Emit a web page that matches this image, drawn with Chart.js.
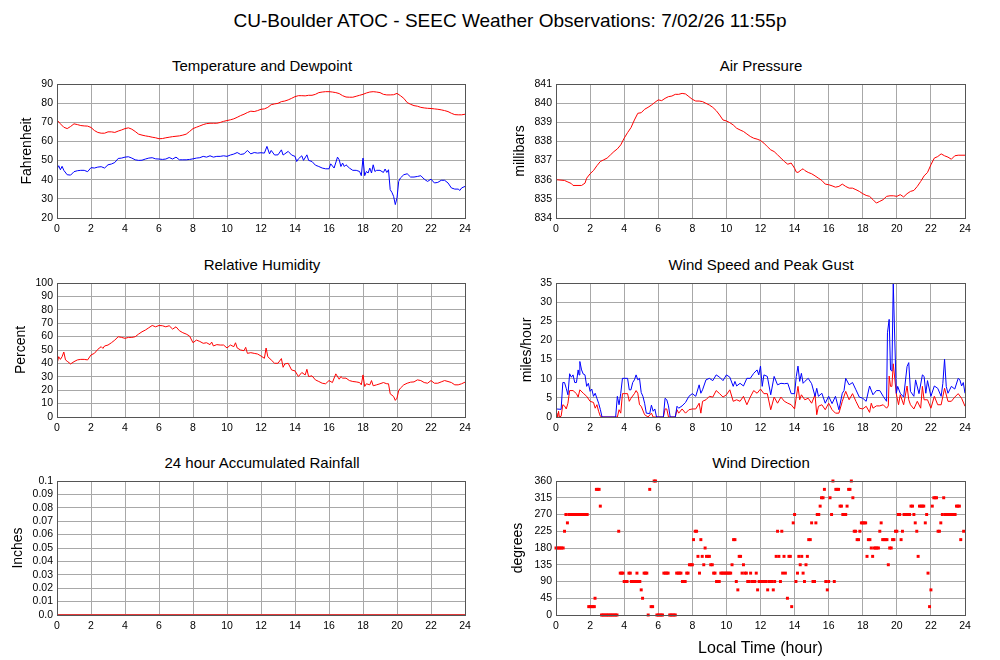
<!DOCTYPE html>
<html><head><meta charset="utf-8">
<script src="https://cdn.jsdelivr.net/npm/chart.js@4"></script>
<style>
html,body{margin:0;padding:0;background:#fff;}
body{width:1000px;height:660px;position:relative;overflow:hidden;font-family:"Liberation Sans",Arial,Helvetica,sans-serif;color:#000;}
.t{position:absolute;transform:translate(-50%,-50%);white-space:nowrap;line-height:1;}
canvas{position:absolute;}
</style></head><body>
<div class="t" style="left:510px;top:20px;font-size:19px">CU-Boulder ATOC - SEEC Weather Observations: 7/02/26 11:55p</div>
<div class="t" style="left:262px;top:65px;font-size:15px">Temperature and Dewpoint</div>
<div class="t" style="left:761px;top:65px;font-size:15px">Air Pressure</div>
<div class="t" style="left:262px;top:264px;font-size:15px">Relative Humidity</div>
<div class="t" style="left:761px;top:264px;font-size:15px">Wind Speed and Peak Gust</div>
<div class="t" style="left:262px;top:462px;font-size:15px">24 hour Accumulated Rainfall</div>
<div class="t" style="left:761px;top:462px;font-size:15px">Wind Direction</div>
<canvas id="cTemp"></canvas><canvas id="cPres"></canvas>
<canvas id="cRH"></canvas><canvas id="cWind"></canvas>
<canvas id="cRain"></canvas><canvas id="cDir"></canvas>
<script>
// ---------- data ----------
const hourTicks = [0,2,4,6,8,10,12,14,16,18,20,22,24];
const hourTickLabels = ['0','2','4','6','8','10','12','14','16','18','20','22','24'];

const tempTicks = [20,30,40,50,60,70,80,90];
const tempTickLabels = ['20','30','40','50','60','70','80','90'];
const presTicks = [834,835,836,837,838,839,840,841];
const presTickLabels = ['834','835','836','837','838','839','840','841'];
const rhTicks = [0,10,20,30,40,50,60,70,80,90,100];
const rhTickLabels = ['0','10','20','30','40','50','60','70','80','90','100'];
const windTicks = [0,5,10,15,20,25,30,35];
const windTickLabels = ['0','5','10','15','20','25','30','35'];
const rainTicks = [0,0.01,0.02,0.03,0.04,0.05,0.06,0.07,0.08,0.09,0.1];
const rainTickLabels = ['0.0','0.01','0.02','0.03','0.04','0.05','0.06','0.07','0.08','0.09','0.1'];
const dirTicks = [0,45,90,135,180,225,270,315,360];
const dirTickLabels = ['0','45','90','135','180','225','270','315','360'];

const tempHours = [0,0.2,0.4,0.6,0.8,1.0,1.2,1.4,1.6,1.8,2.0,2.2,2.4,2.6,2.8,3.0,3.2,3.4,3.6,3.8,4.0,4.2,4.4,4.6,4.8,5.0,5.2,5.4,5.6,5.8,6.0,6.2,6.4,6.6,6.8,7.0,7.2,7.4,7.6,7.8,8.0,8.2,8.4,8.6,8.8,9.0,9.2,9.4,9.6,9.8,10.0,10.2,10.4,10.6,10.8,11.0,11.2,11.4,11.6,11.8,12.0,12.2,12.4,12.6,12.8,13.0,13.2,13.4,13.6,13.8,14.0,14.2,14.4,14.6,14.8,15.0,15.2,15.4,15.6,15.8,16.0,16.2,16.4,16.6,16.8,17.0,17.2,17.4,17.6,17.8,18.0,18.2,18.4,18.6,18.8,19.0,19.2,19.4,19.6,19.8,20.0,20.2,20.4,20.6,20.8,21.0,21.2,21.4,21.6,21.8,22.0,22.2,22.4,22.6,22.8,23.0,23.2,23.4,23.6,23.8,24.0];
const tempValues = [71.2,69.2,67.4,66.7,67.8,69.2,68.8,68.3,68.1,68.0,67.3,65.7,64.7,64.3,64.3,65.0,65.0,64.7,65.4,66.0,66.7,67.1,66.4,65.2,63.8,63.3,62.9,62.6,62.2,61.9,61.4,61.5,61.9,62.2,62.5,62.7,62.9,63.3,63.8,65.2,66.7,67.4,68.1,68.8,69.3,69.5,69.5,69.5,69.9,70.5,70.9,71.3,71.8,72.6,73.5,74.2,75.1,75.8,75.6,76.1,76.8,77.0,77.8,79.2,79.6,79.9,80.8,81.1,81.7,82.5,83.4,83.9,83.9,83.8,84.1,84.1,84.6,85.5,85.8,86.0,86.0,85.8,85.5,85.0,83.9,83.2,83.1,83.1,83.6,84.1,84.6,85.3,85.8,86.0,85.8,85.5,84.6,84.3,84.3,84.4,85.1,83.9,82.5,80.3,79.4,78.7,78.4,77.8,77.5,77.3,77.2,77.0,76.8,76.5,76.1,75.6,74.7,74.0,73.9,73.9,74.2];

const dewHours = [
  0,0.1,0.2,0.3,0.4,0.6,0.8,
  1.0,1.2,1.4,1.6,1.8,
  2.0,2.2,2.4,2.6,2.8,
  3.0,3.2,3.4,3.6,3.8,
  4.0,4.2,4.4,4.6,4.8,
  5.0,5.2,5.4,5.6,5.8,
  6.0,6.2,6.4,6.6,6.8,
  7.0,7.2,7.4,7.6,7.8,
  8.0,8.2,8.4,8.6,8.8,
  9.0,9.2,9.4,9.6,9.8,
  10.0,10.2,10.4,10.6,10.8,
  11.0,11.2,11.4,11.6,11.8,
  12.0,12.2,12.35,12.5,12.6,12.8,
  13.0,13.2,13.3,13.4,13.6,13.8,
  14.0,14.1,14.2,14.4,14.5,14.7,14.8,
  15.0,15.2,15.4,15.6,15.8,
  16.0,16.1,16.3,16.5,16.6,16.7,16.8,16.9,
  17.0,17.2,17.4,17.6,17.8,17.9,
  18.0,18.1,18.2,18.3,18.4,18.5,18.6,18.7,18.8,
  19.0,19.2,19.3,19.4,19.5,19.6,19.7,19.8,19.9,
  20.0,20.1,20.2,20.4,20.6,20.8,
  21.0,21.2,21.4,21.6,21.8,
  22.0,22.2,22.4,22.6,22.8,
  23.0,23.2,23.4,23.6,23.7,23.8,24.0];
const dewValues = [
  45.6,47.3,45.2,47.0,44.9,42.6,42.4,
  44.2,44.7,44.9,44.9,44.2,
  46.3,46.1,46.6,46.8,46.1,
  47.8,48.2,49.0,51.1,51.3,
  51.8,52.0,51.3,50.4,50.1,
  50.2,50.8,51.3,51.5,50.9,
  50.8,50.6,50.8,51.6,50.8,
  51.8,50.4,50.4,50.4,50.6,
  50.9,51.3,51.5,52.2,51.8,
  52.5,51.8,52.2,52.2,52.5,
  52.2,52.9,53.4,54.2,53.2,
  53.5,55.3,53.5,54.2,53.9,
  54.1,53.9,57.4,53.5,55.3,52.9,
  53.0,55.6,52.9,53.5,54.8,52.9,
  52.2,49.5,50.9,52.5,50.1,53.0,50.1,
  49.5,47.6,46.9,46.1,45.7,
  45.7,48.3,46.1,51.8,50.4,46.9,48.7,46.9,
  47.8,46.1,44.9,44.9,44.3,42.1,
  51.3,42.1,44.3,43.5,46.1,43.5,47.8,44.3,44.9,
  44.9,43.8,45.6,43.8,45.2,34.8,33.4,31.3,27.0,
  30.5,39.1,40.9,42.6,43.1,41.4,
  41.4,41.7,42.1,40.3,39.1,
  40.3,38.3,38.6,39.7,39.7,
  38.3,35.7,35.1,35.1,34.4,35.7,36.5];

const presHours = [0,0.5,0.7,0.9,1.0,1.5,1.7,1.8,2.0,2.2,2.4,2.6,2.8,3.0,3.2,3.4,3.6,3.8,4.0,4.2,4.4,4.6,4.8,5.0,5.2,5.4,5.6,5.8,6.0,6.2,6.4,6.6,6.8,7.0,7.2,7.4,7.6,7.8,8.0,8.2,8.4,8.6,8.8,9.0,9.2,9.4,9.6,9.8,10.0,10.2,10.4,10.6,10.8,11.0,11.2,11.4,11.6,11.8,12.0,12.2,12.4,12.6,12.8,13.0,13.2,13.4,13.6,13.8,14.0,14.1,14.2,14.4,14.5,14.6,14.8,15.0,15.2,15.4,15.6,15.8,16.0,16.2,16.4,16.6,16.8,17.0,17.2,17.4,17.6,17.8,18.0,18.2,18.4,18.6,18.8,19.0,19.2,19.4,19.6,19.8,20.0,20.2,20.4,20.6,20.8,21.0,21.2,21.4,21.6,21.8,22.0,22.2,22.4,22.6,22.8,23.0,23.2,23.4,23.6,24.0];
const presValues = [836.0,835.96,835.88,835.8,835.7,835.7,835.82,836.08,836.31,836.48,836.73,836.95,837.04,837.13,837.3,837.47,837.61,837.82,838.17,838.46,838.72,839.12,839.47,839.5,839.68,839.78,839.9,840.04,840.17,840.13,840.25,840.34,840.37,840.46,840.46,840.51,840.48,840.34,840.2,840.11,840.11,840.08,839.99,839.9,839.78,839.61,839.38,839.12,839.07,838.98,838.86,838.69,838.6,838.52,838.39,838.26,838.17,838.12,838.05,837.91,837.73,837.56,837.47,837.3,837.13,836.95,836.81,836.87,836.6,836.4,836.38,836.52,836.57,836.48,836.38,836.31,836.2,836.08,835.96,835.77,835.74,835.68,835.61,835.65,835.77,835.65,835.56,835.56,835.48,835.39,835.27,835.18,835.13,834.96,834.78,834.87,834.96,835.13,835.16,835.16,835.13,835.22,835.1,835.27,835.39,835.44,835.65,835.91,836.2,836.38,836.78,837.13,837.21,837.35,837.25,837.18,837.07,837.25,837.28,837.28];

const rhHours = [
  0,0.1,0.2,0.3,0.4,0.5,0.6,0.8,
  1.0,1.2,1.4,1.6,1.8,
  2.0,2.2,2.4,2.6,2.7,2.8,
  3.0,3.2,3.4,3.6,3.8,
  4.0,4.2,4.4,4.6,4.8,
  5.0,5.2,5.4,5.6,5.8,
  6.0,6.2,6.4,6.6,6.8,
  7.0,7.2,7.4,7.6,7.8,
  8.0,8.2,8.4,8.6,8.8,
  9.0,9.1,9.2,9.4,9.6,9.8,
  10.0,10.2,10.4,10.5,10.6,10.8,
  11.0,11.1,11.2,11.4,11.6,11.8,
  12.0,12.2,12.3,12.4,12.6,12.8,
  13.0,13.2,13.3,13.4,13.6,13.8,
  14.0,14.2,14.4,14.6,14.7,14.8,
  15.0,15.2,15.4,15.6,15.8,
  16.0,16.2,16.4,16.6,16.7,16.8,
  17.0,17.2,17.4,17.6,17.8,17.9,
  18.0,18.1,18.2,18.4,18.5,18.6,18.8,
  19.0,19.2,19.4,19.5,19.6,19.8,19.9,
  20.0,20.1,20.2,20.4,20.6,20.8,
  21.0,21.2,21.4,21.6,21.8,
  22.0,22.2,22.4,22.6,22.8,
  23.0,23.2,23.4,23.6,23.8,24.0];
const rhValues = [
  39.6,45.0,43.0,45.0,48.5,42.6,41.6,39.6,
  41.3,42.6,43.0,43.0,42.6,
  46.3,47.5,50.5,52.5,51.2,53.0,
  53.7,55.4,57.4,59.9,59.4,
  58.7,59.4,59.4,59.9,61.9,
  63.6,64.9,66.6,68.3,67.3,
  68.3,68.1,67.3,68.1,65.6,
  67.3,64.4,62.9,61.9,60.4,
  55.4,57.4,56.4,55.0,55.4,
  54.0,55.9,53.0,54.0,53.7,53.7,
  51.5,53.7,52.5,55.4,51.5,50.0,
  49.5,52.0,47.5,48.0,47.5,47.0,
  45.5,43.8,51.5,45.0,42.6,40.1,
  40.1,43.6,37.1,39.6,40.1,35.1,
  34.4,30.2,33.2,31.4,35.6,30.2,
  30.7,27.7,26.5,25.2,24.8,
  27.2,25.7,32.2,28.2,30.2,29.0,
  29.0,27.2,26.5,26.2,25.7,24.0,
  31.4,22.8,24.8,24.0,27.2,23.3,24.0,
  24.8,25.7,24.8,24.8,17.3,15.3,12.4,
  14.1,19.8,21.5,24.0,25.2,26.0,
  26.2,27.7,27.2,25.7,25.2,
  27.2,25.2,25.2,26.2,27.2,
  26.5,25.7,24.0,24.0,24.8,26.0];

const gustHours = [0,0.3,0.4,0.5,0.6,0.7,0.8,0.9,1.0,1.1,
  1.2,1.3,1.35,1.4,1.5,1.6,1.7,1.8,1.9,2.0,
  2.1,2.2,2.3,2.4,2.5,2.6,2.7,3.5,3.6,3.7,
  3.8,3.9,4.0,4.2,4.3,4.4,4.5,4.6,4.7,4.8,
  4.9,5.0,5.1,5.2,5.3,5.5,5.6,5.7,5.8,5.9,
  6.3,6.4,6.5,6.6,6.7,7.0,7.1,7.2,7.4,7.6,
  7.8,8.0,8.2,8.4,8.5,8.6,8.8,9.0,9.2,9.4,
  9.6,9.8,10.0,10.2,10.4,10.5,10.6,10.8,11.0,11.2,
  11.4,11.6,11.8,11.9,12.0,12.1,12.2,12.4,12.6,12.8,
  13.0,13.2,13.4,13.6,13.8,14.0,14.1,14.2,14.3,14.4,
  14.5,14.6,14.8,15.0,15.2,15.3,15.4,15.6,15.8,16.0,
  16.2,16.4,16.6,16.8,16.9,17.0,17.2,17.4,17.6,17.8,
  18.0,18.2,18.4,18.6,18.8,19.0,19.2,19.4,19.45,19.55,
  19.63,19.71,19.79,19.88,19.97,20.05,20.2,20.4,20.6,20.7,
  20.8,21.0,21.1,21.3,21.5,21.6,21.7,21.8,22.0,22.2,
  22.4,22.6,22.7,22.8,22.9,23.0,23.2,23.4,23.6,23.7,
  23.8,23.9,24.0];
const gustValues = [2.1,2.0,9.0,9.0,7.5,5.8,11.3,10.4,11.0,9.0,
  9.0,12.3,11.0,14.5,12.3,11.2,11.0,8.0,8.8,6.7,
  7.3,5.4,6.2,4.9,3.6,2.0,0,0,5.4,3.2,
  6.2,10.1,10.1,10.1,7.1,7.1,9.0,9.7,11.0,9.7,
  10.1,6.4,5.4,3.6,1.0,0.9,3.1,1.5,2.1,0,
  0,4.9,4.5,2.9,0,0,2.8,2.3,2.9,3.8,
  5.4,6.1,5.4,8.4,6.2,7.1,9.7,10.1,9.5,11.0,
  10.4,9.5,11.0,10.4,8.0,9.3,8.1,8.8,8.1,10.1,
  10.1,11.4,12.3,11.0,13.3,8.0,11.0,10.6,5.8,10.6,
  8.4,8.8,8.7,8.8,6.1,6.1,10.6,13.3,9.3,11.4,
  8.8,9.3,10.1,8.7,5.4,7.5,5.4,6.2,3.6,5.4,
  3.5,5.4,1.9,6.2,6.9,10.1,8.4,9.0,7.1,5.2,
  4.9,4.1,8.1,5.8,6.9,6.9,5.4,4.1,22.0,25.5,
  12.3,12.0,35.0,20.0,6.2,8.0,6.2,5.2,13.2,14.2,
  6.7,5.4,9.7,6.1,11.0,10.6,6.2,9.5,5.4,8.1,
  7.5,5.4,8.8,15.1,8.0,6.2,8.0,7.3,10.1,9.7,
  8.1,9.0,6.2];

const speedHours = [0,0.05,0.1,0.15,0.2,0.3,0.4,0.5,0.6,0.7,
  0.8,1.0,1.2,1.3,1.4,1.6,1.8,2.0,2.2,2.3,
  2.4,2.5,2.6,2.7,3.6,3.7,3.8,3.9,4.0,4.2,
  4.3,4.4,4.6,4.7,4.8,4.9,5.0,5.2,5.4,5.6,
  5.7,6.3,6.4,6.5,6.6,7.0,7.1,7.2,7.4,7.6,
  7.8,8.0,8.2,8.4,8.5,8.6,8.8,9.0,9.2,9.4,
  9.6,9.8,10.0,10.2,10.4,10.6,10.8,11.0,11.2,11.4,
  11.6,11.8,12.0,12.2,12.4,12.6,12.8,13.0,13.2,13.4,
  13.6,13.8,14.0,14.1,14.2,14.3,14.4,14.6,14.8,15.0,
  15.2,15.3,15.4,15.6,15.8,16.0,16.2,16.4,16.6,16.8,
  17.0,17.2,17.4,17.6,17.8,18.0,18.2,18.4,18.5,18.6,
  18.8,19.0,19.2,19.4,19.5,19.55,19.63,19.71,19.79,19.88,
  19.97,20.1,20.2,20.4,20.6,20.7,20.8,21.0,21.2,21.4,
  21.5,21.6,21.8,22.0,22.2,22.4,22.6,22.8,23.0,23.2,
  23.4,23.6,23.8,24.0];
const speedValues = [0,1.0,0,1.5,0,0.2,3.2,2.9,2.1,3.6,
  6.9,6.9,6.1,5.2,7.1,6.2,5.4,4.1,3.8,2.3,
  3.2,1.5,0.2,0,0,1.9,1.0,6.1,6.1,6.1,
  4.1,4.9,6.1,6.9,6.2,3.2,2.8,0.6,0,1.0,
  0,0,2.1,2.1,0,0,1.9,1.0,2.1,1.0,
  1.9,2.1,2.1,3.6,1.0,4.1,4.5,5.4,5.2,6.9,
  6.1,5.2,5.8,7.1,4.1,4.5,4.1,5.4,3.2,5.2,
  6.9,6.2,7.3,6.1,6.1,1.9,5.2,3.6,5.2,4.1,
  3.6,3.2,2.1,5.2,8.0,4.5,5.8,4.5,4.9,3.6,
  5.8,0.6,2.8,3.2,1.9,3.6,1.9,1.0,1.0,4.1,
  6.7,4.5,6.1,4.1,2.3,2.1,2.8,1.2,3.6,2.3,
  2.9,2.9,3.2,2.3,2.9,10.7,8.0,8.0,13.9,10.0,
  6.0,3.2,5.8,3.2,8.1,4.5,3.2,2.1,4.1,2.3,
  8.0,4.5,4.5,2.3,5.4,3.2,3.2,7.5,4.1,4.1,
  5.2,6.1,4.9,2.8];

const rainHours = [0,24];
const rainValues = [0,0];

const dirHours = [
  0,0.08,0.17,0.25,0.33,0.42,
  0.5,
  0.58,0.67,0.75,0.83,0.92,1.0,1.08,1.17,1.25,1.33,1.42,1.5,1.58,1.67,1.75,1.83,
  1.92,2.0,2.08,2.17,2.25,
  2.29,2.37,2.45,2.53,2.6,
  2.67,2.75,2.83,2.92,3.0,3.08,3.17,3.25,3.33,3.42,3.5,3.58,
  3.68,3.77,3.85,3.93,4.0,4.08,4.17,4.28,4.36,
  4.42,4.5,4.58,4.67,4.75,4.83,4.92,
  5.0,5.08,5.17,5.25,5.33,5.41,5.5,5.58,5.67,5.76,5.84,
  5.92,6.0,6.08,6.17,6.25,6.33,6.42,6.5,6.58,
  6.67,6.75,6.83,6.92,7.0,7.08,7.17,7.25,7.33,
  7.42,7.5,7.58,7.67,7.75,7.83,7.92,8.0,
  8.07,8.17,8.25,8.33,8.42,8.5,8.58,8.67,8.75,
  8.83,8.92,9.0,9.08,9.17,9.25,9.33,9.42,9.5,9.58,
  9.67,9.75,9.83,9.92,10.0,10.08,10.17,10.25,
  10.33,10.42,10.5,10.58,10.67,10.75,10.83,10.92,11.0,
  11.08,11.17,11.25,11.33,11.42,11.5,11.58,11.67,11.75,11.83,
  11.92,12.0,12.08,12.17,12.25,12.33,12.42,12.5,12.58,12.67,12.75,12.83,
  12.92,13.0,13.08,13.17,13.25,13.3,13.38,13.46,13.58,13.67,13.75,13.83,13.92,
  14.0,14.08,14.17,14.25,14.33,14.42,14.5,14.58,14.67,14.75,14.83,14.92,
  15.0,15.08,15.17,15.25,15.33,15.42,15.5,15.58,15.67,15.75,15.83,15.92,
  16.0,16.08,16.17,16.25,16.33,16.42,16.5,16.58,16.67,16.75,16.83,16.92,
  17.0,17.08,17.17,17.25,17.33,17.42,17.5,17.58,17.67,17.75,17.83,17.92,
  18.0,18.08,18.17,18.25,18.33,18.42,18.5,18.58,18.67,18.75,18.83,18.92,
  19.0,19.08,19.17,19.25,19.33,19.42,19.5,19.58,19.67,19.75,19.83,19.92,
  20.0,20.08,20.17,20.25,20.33,20.42,20.5,20.58,20.67,20.75,20.83,20.92,
  21.0,21.08,21.17,21.25,21.33,21.42,21.5,21.58,21.67,21.75,21.83,21.92,
  22.0,22.08,22.17,22.25,22.33,22.42,22.5,22.58,22.67,22.75,22.83,22.92,
  23.0,23.08,23.17,23.25,23.33,23.42,23.5,23.58,23.67,23.75,23.92];
const dirDegrees = [
  180,180,180,180,180,180,
  225,
  270,247.5,270,270,270,270,270,270,270,270,270,270,270,270,270,270,
  22.5,22.5,22.5,22.5,22.5,
  45,337.5,337.5,337.5,292.5,
  0,0,0,0,0,0,0,0,0,0,0,0,
  225,112.5,112.5,112.5,90,90,90,112.5,112.5,
  90,90,90,90,112.5,90,90,
  67.5,45,112.5,112.5,112.5,0,337.5,22.5,22.5,360,360,
  0,0,0,0,0,112.5,112.5,112.5,112.5,
  0,0,0,0,0,112.5,112.5,112.5,112.5,
  90,90,90,112.5,112.5,135,135,135,
  202.5,225,225,157.5,112.5,202.5,157.5,135,180,
  157.5,157.5,157.5,135,135,112.5,112.5,90,90,90,
  112.5,112.5,112.5,112.5,112.5,112.5,112.5,112.5,
  135,202.5,202.5,90,67.5,157.5,157.5,112.5,135,
  112.5,112.5,90,90,112.5,90,90,90,112.5,67.5,
  90,90,90,90,90,90,67.5,90,90,90,67.5,90,
  157.5,225,157.5,90,225,112.5,157.5,112.5,45,157.5,157.5,22.5,247.5,
  270,90,112.5,157.5,135,157.5,112.5,90,135,157.5,202.5,202.5,
  247.5,90,90,247.5,270,270,292.5,315,315,337.5,90,67.5,
  90,315,270,360,90,337.5,337.5,337.5,292.5,292.5,270,270,
  270,292.5,337.5,337.5,360,315,225,225,202.5,202.5,225,247.5,
  247.5,247.5,247.5,157.5,202.5,202.5,180,157.5,180,180,180,180,
  225,247.5,202.5,202.5,202.5,202.5,135,180,180,202.5,202.5,225,
  225,270,270,202.5,225,270,270,270,270,270,292.5,292.5,
  270,247.5,225,157.5,292.5,292.5,292.5,292.5,247.5,270,112.5,22.5,
  67.5,292.5,315,315,315,225,225,247.5,270,315,270,270,
  270,270,270,270,270,270,292.5,292.5,292.5,202.5,225];

// ---------- drawing ----------
const FONT = '"Liberation Sans", Arial, Helvetica, sans-serif';
const GRID = '#a8a8a8';
const FRAME = '#555555';
const RED = '#ff0000';
const BLUE = '#0000ff';

function pts(xs, ys) {
  const n = Math.min(xs.length, ys.length);
  const out = [];
  for (let i = 0; i < n; i++) out.push({x: xs[i], y: ys[i]});
  return out;
}

const framePlugin = {
  id: 'frame',
  afterDatasetsDraw(chart) {
    const a = chart.chartArea, c = chart.ctx;
    const l = Math.round(a.left), t = Math.round(a.top), r = Math.round(a.right), b = Math.round(a.bottom);
    c.save();
    c.strokeStyle = FRAME;
    c.lineWidth = 1;
    c.strokeRect(l + 0.5, t + 0.5, r - l, b - t);
    c.restore();
  }
};

function lineSet(xs, ys, color, w) {
  return {data: pts(xs, ys), borderColor: color, backgroundColor: color, borderWidth: w || 1,
          pointRadius: 0, tension: 0, fill: false};
}

function panel(id, box, yCfg, datasets, xTitle) {
  const cv = document.getElementById(id);
  cv.width = box.width; cv.height = box.height;
  cv.style.left = box.left + 'px'; cv.style.top = box.top + 'px';
  cv.style.width = box.width + 'px'; cv.style.height = box.height + 'px';
  const yW = box.plotLeft - box.left;
  const padTop = box.plotTop - box.top;
  const padRight = box.left + box.width - box.plotRight;
  const xH = box.top + box.height - box.plotBottom;
  const tickFont = {family: FONT, size: 10.5};
  new Chart(cv, {
    type: 'line',
    data: {datasets: datasets},
    options: {
      responsive: false, animation: false, events: [],
      layout: {autoPadding: false, padding: {top: padTop, right: padRight, bottom: 0, left: 0}},
      plugins: {legend: {display: false}, tooltip: {enabled: false}, title: {display: false}},
      scales: {
        x: {
          type: 'linear', min: 0, max: 24,
          afterBuildTicks: s => { s.ticks = hourTicks.map(v => ({value: v})); },
          afterFit: s => { s.height = xH; s.paddingLeft = 0; s.paddingRight = 0; },
          ticks: {autoSkip: false, maxRotation: 0, minRotation: 0, padding: 5, color: '#000', font: tickFont,
                  callback: (v, i) => hourTickLabels[i]},
          grid: {color: GRID, lineWidth: 1, drawTicks: false},
          border: {display: false},
          title: xTitle ? {display: true, text: xTitle, color: '#000', font: {family: FONT, size: 16},
                           padding: {top: 0, bottom: 1.4}} : {display: false}
        },
        y: {
          type: 'linear', min: yCfg.min, max: yCfg.max,
          afterBuildTicks: s => { s.ticks = yCfg.ticks.map(v => ({value: v})); },
          afterFit: s => { s.width = yW; s.paddingTop = 0; s.paddingBottom = 0; },
          ticks: {autoSkip: false, padding: 4, color: '#000', font: tickFont,
                  callback: (v, i) => yCfg.labels[i]},
          grid: {color: GRID, lineWidth: 1, drawTicks: false},
          border: {display: false},
          title: {display: true, text: yCfg.title, color: '#000', font: {family: FONT, size: 14},
                  padding: {top: yCfg.titlePad, bottom: 0}}
        }
      }
    },
    plugins: [framePlugin]
  });
}

const L = {left: 0, width: 490, plotLeft: 57, plotRight: 465};
const R = {left: 500, width: 495, plotLeft: 556, plotRight: 965};
const ROW1 = {top: 74, height: 164, plotTop: 84, plotBottom: 218};
const ROW2 = {top: 273, height: 164, plotTop: 283, plotBottom: 417};
const ROW3 = {top: 471, height: 164, plotTop: 481, plotBottom: 615};
const ROW3X = {top: 471, height: 189, plotTop: 481, plotBottom: 615};

panel('cTemp', Object.assign({}, L, ROW1),
  {min: 20, max: 90, ticks: tempTicks, labels: tempTickLabels, title: 'Fahrenheit', titlePad: 18.3},
  [lineSet(tempHours, tempValues, RED), lineSet(dewHours, dewValues, BLUE)]);

panel('cPres', Object.assign({}, R, ROW1),
  {min: 834, max: 841, ticks: presTicks, labels: presTickLabels, title: 'millibars', titlePad: 11.6},
  [lineSet(presHours, presValues, RED)]);

panel('cRH', Object.assign({}, L, ROW2),
  {min: 0, max: 100, ticks: rhTicks, labels: rhTickLabels, title: 'Percent', titlePad: 12.9},
  [lineSet(rhHours, rhValues, RED)]);

panel('cWind', Object.assign({}, R, ROW2),
  {min: 0, max: 35, ticks: windTicks, labels: windTickLabels, title: 'miles/hour', titlePad: 18.3},
  [lineSet(gustHours, gustValues, BLUE), lineSet(speedHours, speedValues, RED)]);

const rainSet = lineSet(rainHours, rainValues, '#e03a3a', 2);
rainSet.clip = 0;
panel('cRain', Object.assign({}, L, ROW3),
  {min: 0, max: 0.1, ticks: rainTicks, labels: rainTickLabels, title: 'Inches', titlePad: 9.3},
  [rainSet]);

panel('cDir', Object.assign({}, R, ROW3X),
  {min: 0, max: 360, ticks: dirTicks, labels: dirTickLabels, title: 'degrees', titlePad: 9.3},
  [{data: pts(dirHours, dirDegrees), showLine: false, pointStyle: 'rect', pointRadius: 2.1,
    pointBorderWidth: 0, pointBackgroundColor: RED, pointBorderColor: RED, borderColor: RED, clip: false}],
  'Local Time (hour)');
</script>
</body></html>
